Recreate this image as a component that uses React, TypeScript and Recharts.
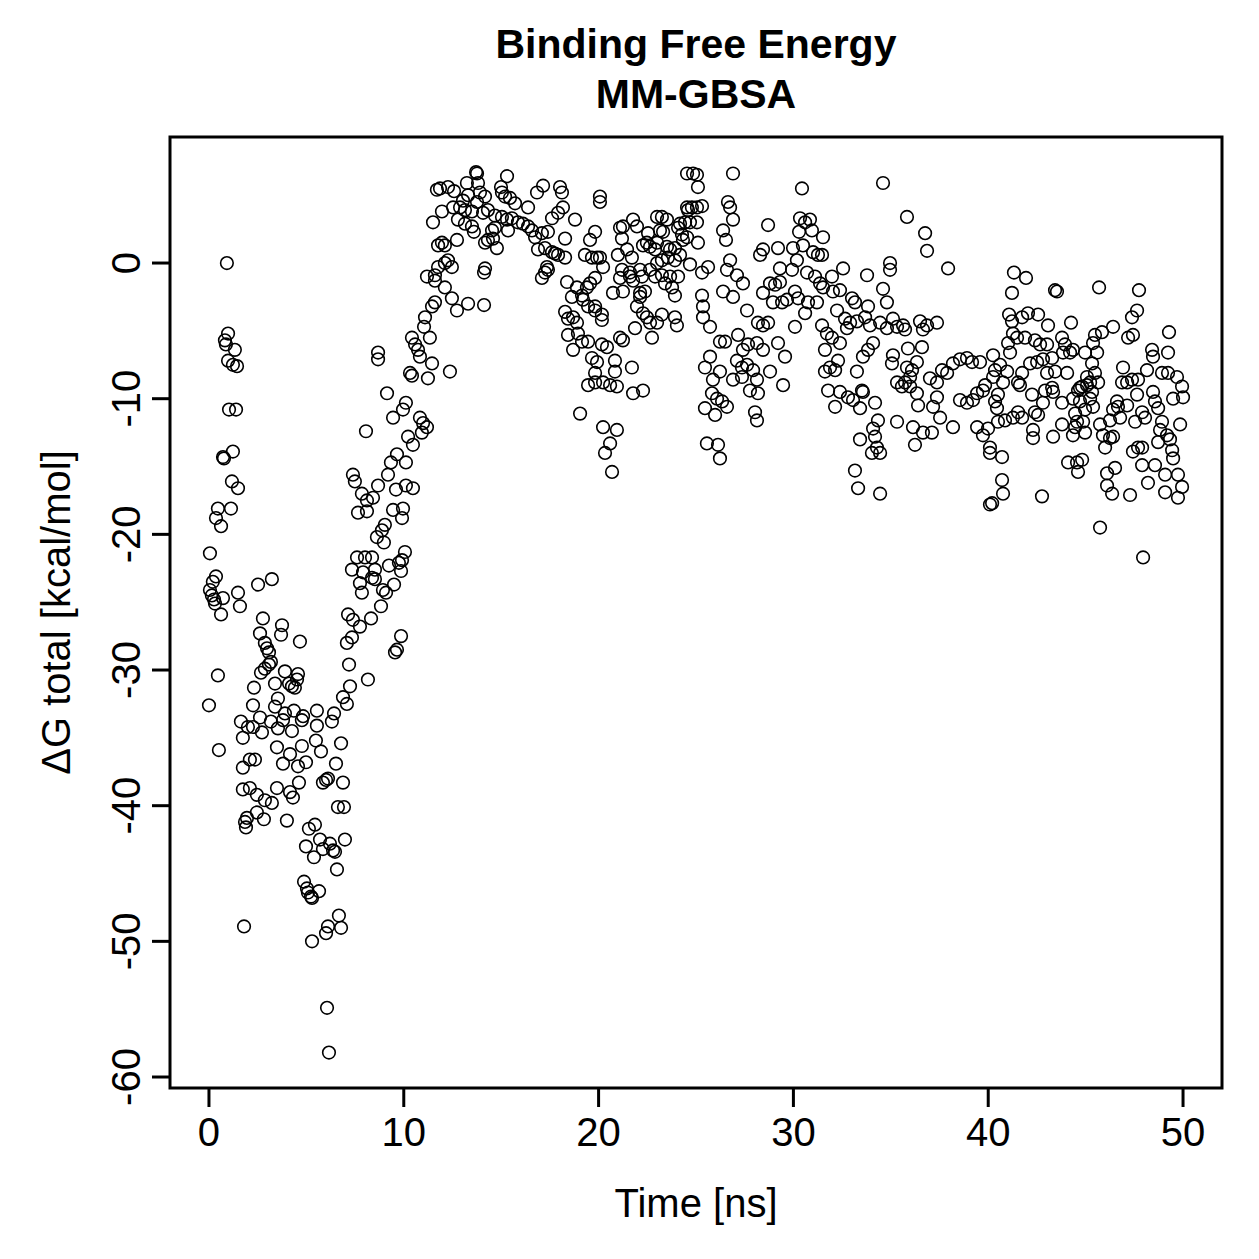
import { ScatterChart, Scatter, XAxis, YAxis, ReferenceArea } from 'recharts'

const FONT = '"Liberation Sans", Arial, Helvetica, sans-serif'

// MM-GBSA binding free energy per frame: [time (ns), ΔG total (kcal/mol)]
const ns0to10: [number, number][] = [
  [0.0, -32.6], [0.05, -21.4], [0.05, -24.1], [0.15, -24.5], [0.2, -23.5], [0.26, -24.8], [0.31, -25.1], [0.36, -23.1],
  [0.36, -18.8], [0.46, -18.1], [0.62, -19.4], [0.46, -30.4], [0.51, -35.9], [0.62, -25.9], [0.72, -24.7], [0.72, -14.3],
  [0.77, -14.4], [0.82, -5.7], [0.87, -6.0], [0.92, 0.0], [0.98, -5.2], [0.98, -7.2], [1.03, -10.8], [1.13, -18.1],
  [1.18, -16.1], [1.23, -13.9], [1.23, -7.5], [1.33, -6.4], [1.39, -10.8], [1.44, -7.6], [1.49, -16.6], [1.49, -24.3],
  [1.59, -25.3], [1.64, -33.8], [1.74, -35.0], [1.74, -37.2], [1.74, -38.8], [1.8, -48.9], [1.85, -41.2], [1.9, -41.6],
  [1.95, -40.9],
  [2.52, -23.7], [3.23, -23.3], [2.77, -26.2], [3.75, -26.7], [2.62, -27.3], [3.7, -27.4], [2.87, -28.0], [2.98, -28.4],
  [4.67, -27.9], [3.18, -29.4], [3.08, -28.7], [3.08, -29.6], [2.87, -29.9], [2.67, -30.2], [3.9, -30.1], [4.57, -30.3],
  [4.52, -30.7], [4.11, -31.0], [4.26, -31.2], [4.41, -31.3], [3.39, -31.0], [2.31, -31.3], [2.26, -32.6], [3.54, -32.1],
  [3.39, -32.7], [4.36, -33.0], [3.9, -33.2], [3.8, -33.7], [4.83, -33.4], [4.77, -33.7], [5.54, -33.0], [5.54, -34.1],
  [6.42, -33.2], [6.31, -33.8], [2.62, -33.5], [2.0, -34.2], [2.26, -34.2], [3.18, -33.8], [3.54, -34.3], [4.26, -34.5],
  [2.72, -34.6], [3.49, -35.7], [4.77, -35.6], [5.49, -35.2], [5.75, -36.0], [6.78, -35.4], [4.16, -36.2], [4.98, -36.8],
  [4.57, -37.1], [3.8, -36.9], [6.52, -36.9], [2.1, -36.6], [2.36, -36.6], [2.1, -38.7], [2.46, -39.2], [2.87, -39.6],
  [3.23, -39.8], [3.49, -38.7], [4.16, -39.0], [4.31, -39.4], [4.62, -38.3], [5.85, -38.3], [6.01, -38.1], [6.11, -38.0],
  [6.88, -38.3], [6.62, -40.1], [6.93, -40.1], [2.46, -40.5], [2.82, -41.0], [4.0, -41.1], [5.44, -41.4], [5.13, -41.7],
  [4.98, -43.0], [5.39, -43.8], [5.7, -42.5], [5.85, -43.2], [6.21, -42.8], [6.37, -43.3], [6.47, -43.4], [6.98, -42.5],
  [6.57, -44.7], [4.88, -45.6], [5.03, -46.1], [5.08, -46.4], [5.24, -46.7], [5.65, -46.3], [5.29, -46.8], [6.67, -48.1],
  [6.78, -49.0], [6.11, -48.9], [6.01, -49.4], [5.29, -50.0], [6.06, -54.9], [6.16, -58.2],
  [7.14, -25.9], [7.39, -26.3], [7.75, -26.8], [8.32, -26.2], [7.08, -28.0], [7.34, -27.6], [7.19, -29.6], [7.24, -31.2],
  [8.16, -30.7], [6.88, -32.0], [7.08, -32.5], [9.55, -28.7], [9.65, -28.5], [9.86, -27.5], [7.39, -15.6], [7.49, -16.1],
  [7.85, -17.0], [8.11, -17.5], [8.42, -17.3], [7.65, -18.4], [8.11, -18.3], [8.68, -16.4], [9.19, -15.6], [9.34, -14.7],
  [9.65, -14.1], [9.6, -16.7], [9.96, -18.1], [9.45, -18.2], [9.91, -18.8], [9.03, -19.3], [8.88, -19.7], [8.62, -20.2],
  [8.98, -20.6], [9.91, -21.9], [7.6, -21.7], [8.01, -21.7], [8.37, -21.7], [7.34, -22.6], [7.91, -22.8], [8.52, -22.6],
  [9.24, -22.3], [9.75, -22.1], [9.86, -22.7], [7.75, -23.6], [8.37, -23.2], [8.52, -23.3], [7.85, -24.3], [8.93, -24.1],
  [9.09, -24.3], [9.5, -23.7], [8.83, -25.3], [8.68, -6.6], [8.68, -7.1], [9.14, -9.6], [9.45, -11.4], [9.96, -10.8],
  [8.06, -12.4],
]

const ns10to20: [number, number][] = [
  [10.11, -14.7], [10.11, -16.4], [10.06, -21.3], [10.11, -10.3],
  [13.71, 6.7], [13.76, 6.6], [15.3, 6.4], [11.7, 5.4], [11.86, 5.5], [12.27, 5.6], [12.58, 5.3], [13.24, 5.9],
  [13.81, 5.9], [13.91, 5.2], [13.3, 5.0], [13.04, 4.6], [13.76, 4.5], [14.17, 4.9], [14.99, 5.6], [15.04, 5.2],
  [15.2, 4.9], [15.45, 4.8], [15.71, 4.4], [16.38, 4.1], [16.84, 5.2], [17.15, 5.7], [18.02, 5.6], [18.12, 5.2],
  [18.17, 4.1], [17.92, 3.7], [17.61, 3.3], [18.79, 3.2], [11.96, 3.8], [12.53, 4.1], [12.89, 4.1], [13.14, 3.9],
  [13.5, 3.8], [12.78, 3.2], [13.14, 2.9], [13.5, 2.7], [13.6, 2.3], [14.07, 3.7], [14.32, 3.9], [14.68, 3.5],
  [15.04, 3.4], [15.3, 3.2], [15.55, 3.3], [15.86, 3.0], [16.12, 2.9], [16.38, 2.7], [16.58, 2.4], [16.74, 1.9],
  [17.09, 2.2], [17.4, 2.3], [15.35, 2.4], [14.68, 2.6], [14.32, 1.7], [14.58, 1.8], [14.53, 2.4], [14.78, 1.1],
  [14.17, 1.5], [11.5, 3.0], [12.73, 1.7], [11.76, 1.3], [11.96, 1.5], [12.11, 1.3], [17.25, 1.1], [17.61, 0.8],
  [17.76, 0.7], [17.92, 0.6], [18.28, 0.4], [17.35, -0.3], [17.25, -0.7], [17.4, -0.5], [17.09, -1.1], [16.89, 1.0],
  [18.28, 1.8], [19.3, 0.6], [19.66, 0.4], [19.92, 0.4], [19.82, 2.3], [11.76, -0.3], [12.11, 0.0], [12.47, -0.3],
  [12.27, 0.2], [11.19, -1.0], [11.6, -0.9], [11.6, -1.3], [12.11, -1.8], [14.17, -0.4], [14.12, -0.7], [12.47, -2.6],
  [12.73, -3.5], [13.3, -3.0], [14.12, -3.1], [11.6, -2.9], [11.45, -3.2], [11.09, -4.0], [11.04, -4.7], [11.34, -5.5],
  [10.42, -5.5], [10.58, -6.0], [10.73, -6.4], [10.83, -6.9], [11.45, -7.4], [10.32, -8.1], [10.42, -8.3], [11.24, -8.5],
  [12.37, -8.0], [10.83, -11.4], [10.99, -11.8], [11.19, -12.1], [10.93, -12.5], [10.22, -12.8], [10.47, -13.4],
  [10.47, -16.6], [18.38, -1.4], [18.63, -2.5], [18.89, -1.8], [19.15, -2.4], [19.4, -1.8], [19.2, -2.7], [19.46, -3.2],
  [19.82, -3.2], [18.28, -3.6], [18.43, -4.1], [18.69, -4.0], [18.89, -4.4], [18.94, -5.2], [18.43, -5.3], [18.69, -6.4],
  [19.15, -5.8], [19.46, -5.8], [19.66, -7.0], [19.92, -7.3], [19.82, -8.1], [19.46, -9.0], [19.82, -8.8], [19.05, -11.1],
  [19.82, -1.1], [19.56, 1.7], [19.56, -1.5], [19.82, -3.5],
]

const ns20to30: [number, number][] = [
  [20.07, 4.9], [20.07, 4.5], [20.17, -4.2], [20.17, -6.0], [20.23, -12.1], [20.33, -14.0],
  [24.54, 6.6], [24.85, 6.6], [25.05, 6.5], [25.1, 5.6], [26.9, 6.6], [24.54, 4.1], [24.79, 4.1], [25.05, 4.1],
  [25.31, 4.2], [24.59, 3.9], [26.64, 4.5], [26.75, 4.1], [26.9, 3.2], [26.39, 2.4], [26.54, 1.7], [28.7, 2.8],
  [21.77, 3.2], [21.25, 2.7], [21.1, 2.6], [21.2, 1.8], [21.97, 2.7], [22.54, 2.2], [23.0, 3.4], [23.25, 3.4],
  [23.51, 3.2], [23.15, 2.4], [23.31, 2.3], [24.18, 2.9], [24.44, 3.0], [24.69, 3.0], [25.05, 3.0], [24.08, 2.6],
  [24.28, 2.1], [24.33, 1.7], [24.54, 1.9], [25.1, 1.5], [22.48, 1.5], [22.28, 1.3], [22.64, 1.2], [22.9, 1.0],
  [23.0, 1.5], [23.51, 1.2], [23.67, 1.0], [23.92, 1.1], [20.99, 0.6], [21.46, 1.0], [21.71, 0.4], [20.07, 0.4],
  [20.23, -0.3], [21.2, -0.5], [21.61, -0.7], [22.13, -0.5], [22.64, -0.5], [23.0, 0.0], [23.25, 0.2], [23.56, 0.4],
  [23.92, 0.2], [24.18, 0.6], [24.69, -0.1], [25.62, -0.3], [25.31, -0.7], [21.61, -1.0], [21.77, -1.3], [21.1, -1.1],
  [22.23, -1.0], [22.9, -1.0], [23.25, -0.9], [23.67, -1.0], [24.08, -1.0], [23.41, -1.5], [23.77, -1.8], [21.25, -2.1],
  [20.74, -2.2], [22.13, -2.2], [22.38, -2.1], [23.92, -2.4], [25.31, -2.4], [25.36, -3.2], [25.36, -4.0], [25.72, -4.7],
  [26.39, -2.1], [26.9, -2.5], [26.75, 0.2], [26.59, -0.5], [27.1, -0.9], [27.41, -1.5], [27.62, -3.5], [20.17, -3.8],
  [22.13, -2.5], [21.97, -3.2], [22.28, -3.7], [22.48, -4.0], [22.64, -4.4], [23.0, -4.4], [23.25, -3.8], [23.92, -4.0],
  [24.02, -4.6], [21.87, -4.8], [22.74, -5.5], [21.1, -5.5], [21.25, -5.7], [20.43, -6.2], [20.84, -7.2], [20.84, -8.0],
  [21.71, -7.7], [20.23, -8.8], [20.59, -9.0], [20.94, -9.1], [21.77, -9.6], [22.28, -9.4], [20.94, -12.3], [20.59, -13.3],
  [20.69, -15.4], [26.23, -5.8], [26.49, -5.8], [27.16, -5.3], [27.41, -6.4], [27.67, -6.0], [28.13, -5.9], [28.44, -6.4],
  [29.21, -5.9], [29.57, -6.9], [25.72, -6.9], [25.46, -7.7], [25.87, -8.6], [26.23, -8.0], [27.1, -7.2], [27.36, -7.7],
  [27.62, -7.5], [27.93, -7.9], [28.13, -8.6], [28.8, -8.0], [26.9, -8.6], [27.36, -8.4], [27.77, -9.4], [28.18, -9.6],
  [25.82, -9.6], [26.08, -10.0], [26.34, -10.2], [26.59, -10.6], [25.46, -10.7], [25.98, -11.2], [29.47, -9.0],
  [28.03, -11.0], [28.13, -11.6], [25.56, -13.3], [26.13, -13.4], [26.23, -14.4], [28.29, 0.6], [28.44, 1.0], [29.21, 1.1],
  [29.31, -0.4], [28.8, -1.5], [29.06, -1.6], [29.31, -1.4], [28.44, -2.2], [28.95, -2.9], [29.42, -2.9], [29.67, -2.7],
  [28.18, -4.4], [28.44, -4.6], [28.7, -4.4], [29.98, 1.1], [29.93, -0.5],
]

const ns30to40: [number, number][] = [
  [30.44, 5.5], [34.6, 5.9], [35.83, 3.4], [36.76, 2.2], [36.86, 0.9], [37.94, -0.4], [30.34, 3.3], [30.6, 3.0],
  [30.85, 3.2], [30.29, 2.3], [30.95, 2.4], [31.52, 1.9], [30.49, 1.3], [31.01, 0.8], [31.26, 0.6], [31.47, 0.6],
  [30.18, 0.2], [30.7, -0.7], [31.11, -1.0], [31.98, -1.0], [32.55, -0.4], [31.37, -1.5], [31.52, -1.8], [32.03, -2.1],
  [32.39, -2.0], [30.08, -2.1], [30.24, -2.6], [30.75, -2.9], [31.21, -2.9], [30.6, -3.7], [30.08, -4.7], [33.78, -0.9],
  [34.96, 0.0], [34.96, -0.5], [34.6, -1.9], [34.8, -2.9], [33.83, -3.2], [33.68, -4.0], [33.01, -2.6], [33.16, -2.9],
  [32.24, -3.5], [32.65, -4.1], [32.91, -4.4], [32.75, -4.8], [33.26, -4.3], [33.93, -4.6], [31.47, -4.6], [31.72, -5.2],
  [31.98, -5.5], [32.39, -5.9], [31.62, -6.4], [32.29, -7.2], [31.88, -7.7], [31.62, -8.0], [33.26, -8.0], [32.14, -7.9],
  [34.45, -4.4], [34.8, -4.8], [35.11, -4.1], [35.32, -4.7], [35.63, -4.6], [35.73, -4.9], [36.5, -4.3], [36.86, -4.6],
  [37.37, -4.4], [36.65, -4.9], [34.09, -5.9], [33.83, -6.4], [33.57, -6.9], [35.88, -6.3], [36.6, -6.2], [35.11, -6.8],
  [35.06, -7.4], [35.83, -7.7], [36.34, -7.3], [36.09, -7.9], [35.32, -8.8], [35.57, -9.1], [35.73, -8.8], [35.99, -8.4],
  [33.57, -9.5], [33.06, -10.1], [33.42, -10.7], [34.19, -10.3], [33.52, -9.4], [32.39, -9.5], [32.8, -9.9], [31.78, -9.4],
  [32.14, -10.6], [35.32, -11.7], [34.34, -11.6], [34.09, -12.2], [34.19, -12.8], [34.29, -13.6], [34.03, -14.0],
  [34.45, -14.0], [33.42, -13.0], [33.16, -15.3], [33.32, -16.6], [34.45, -17.0], [35.99, -9.1], [36.34, -9.6],
  [37.01, -8.5], [37.37, -8.8], [37.63, -7.9], [37.89, -8.1], [38.19, -7.4], [38.55, -7.1], [38.91, -7.0], [39.17, -7.3],
  [39.58, -7.3], [37.37, -9.9], [37.17, -10.6], [36.4, -10.5], [37.53, -11.4], [36.14, -12.1], [36.65, -12.5],
  [37.11, -12.5], [36.24, -13.4], [38.19, -12.1], [38.55, -10.1], [38.91, -10.3], [39.22, -10.1], [39.43, -9.6],
  [39.73, -9.4], [39.43, -12.1], [39.73, -12.7], [40.09, -14.0], [39.84, -9.0], [39.99, -12.2],
]

const ns40to50: [number, number][] = [
  [41.32, -0.7], [41.94, -1.1], [41.22, -2.2], [43.43, -2.0], [43.53, -2.1], [45.69, -1.8], [47.74, -2.0], [41.07, -3.8],
  [41.22, -4.3], [41.74, -4.0], [42.04, -3.7], [42.56, -3.8], [43.07, -4.6], [44.25, -4.4], [41.27, -5.2], [41.48, -5.5],
  [41.89, -5.5], [42.4, -5.7], [42.66, -6.0], [43.02, -6.0], [43.79, -5.5], [43.94, -6.0], [44.2, -6.6], [44.35, -6.4],
  [43.84, -6.6], [41.12, -6.6], [41.02, -5.9], [40.25, -6.8], [40.61, -7.5], [40.97, -8.0], [40.35, -7.9], [40.25, -8.4],
  [42.15, -7.4], [42.51, -7.3], [42.81, -7.1], [43.28, -7.0], [43.02, -8.1], [43.43, -8.0], [44.05, -8.1], [41.74, -8.1],
  [41.53, -8.8], [40.76, -8.8], [40.5, -9.7], [41.63, -9.0], [42.25, -9.7], [42.92, -9.4], [43.28, -9.2], [43.33, -9.5],
  [42.81, -10.3], [42.4, -11.0], [42.56, -11.2], [43.79, -10.3], [44.35, -10.0], [44.82, -9.1], [45.07, -9.0], [44.61, -9.4],
  [44.71, -10.2], [45.23, -10.0], [45.38, -10.6], [44.97, -10.8], [44.46, -11.1], [40.45, -10.7], [40.35, -10.2],
  [41.53, -11.0], [41.27, -11.4], [41.74, -11.4], [40.86, -11.6], [40.5, -11.7], [40.09, -13.6], [40.71, -14.3],
  [42.3, -12.3], [42.3, -12.9], [43.33, -12.8], [43.79, -11.9], [44.56, -11.7], [44.46, -12.1], [44.87, -11.7],
  [44.35, -12.7], [44.97, -12.5], [40.09, -17.8], [40.2, -17.7], [40.71, -16.0], [40.76, -17.0], [42.76, -17.2],
  [45.84, -5.1], [46.41, -4.7], [45.48, -5.3], [45.38, -5.9], [45.59, -6.6], [44.97, -6.6], [45.33, -7.4], [45.48, -8.1],
  [45.07, -8.4], [45.23, -8.8], [45.64, -8.8], [45.33, -9.5], [44.71, -9.2], [45.74, -11.9], [45.89, -12.7], [46.25, -12.9],
  [46.41, -12.8], [46.0, -13.6], [44.1, -14.7], [44.56, -14.7], [44.82, -14.5], [44.61, -15.4], [46.1, -15.5], [46.51, -15.1],
  [46.1, -16.4], [46.36, -17.0], [45.74, -19.5], [47.28, -17.1], [48.2, -16.2], [47.95, -21.7], [47.38, -4.0], [47.64, -3.5],
  [47.43, -5.3], [47.18, -5.5], [48.41, -6.4], [48.46, -6.9], [49.23, -6.6], [49.28, -5.1], [48.15, -7.9], [46.92, -7.7],
  [46.87, -8.8], [47.13, -8.8], [47.38, -8.6], [47.69, -8.6], [47.64, -9.7], [46.61, -10.2], [46.66, -10.6], [47.13, -10.5],
  [46.41, -10.8], [46.25, -11.6], [46.77, -11.4], [47.54, -11.7], [47.9, -11.0], [48.05, -11.4], [48.46, -9.5],
  [48.56, -10.2], [48.72, -10.7], [48.92, -8.1], [49.23, -8.1], [49.69, -8.4], [49.95, -9.1], [49.49, -10.0], [50.0, -9.9],
  [48.92, -11.7], [48.82, -12.3], [49.18, -12.7], [49.33, -13.0], [48.72, -13.2], [49.44, -13.8], [49.85, -11.9],
  [47.9, -13.6], [47.43, -13.9], [47.69, -13.6], [47.9, -14.9], [48.56, -14.9], [49.08, -15.6], [49.49, -14.4],
  [49.74, -15.6], [49.95, -16.5], [49.08, -16.9], [49.74, -17.3],
]

const xTicks = [0, 10, 20, 30, 40, 50]
const yTicks = [-60, -50, -40, -30, -20, -10, 0]
const xRange: [number, number] = [-2, 52]
const yRange: [number, number] = [-60.81, 9.29]

const frames = [...ns0to10, ...ns10to20, ...ns20to30, ...ns30to40, ...ns40to50].map(([t, dG]) => ({ t, dG }))

const OpenCircle = (props: any) => (
  <circle cx={props.cx} cy={props.cy} r={6.3} fill="none" stroke="#000" strokeWidth={1.6} />
)

const YTick = (props: any) => {
  const { x, y, payload } = props
  return (
    <text
      x={x}
      y={y}
      transform={`rotate(-90 ${x} ${y})`}
      textAnchor="middle"
      fill="#000"
      fontSize={40}
      fontFamily={FONT}
    >
      {payload.value}
    </text>
  )
}

export default function App() {
  return (
    <div style={{ position: 'absolute', left: 0, top: 0, width: 1259, height: 1259, background: '#fff' }}>
      <ScatterChart width={1259} height={1259} margin={{ top: 137, right: 37, bottom: 0, left: 0 }}>
        <XAxis
          type="number"
          dataKey="t"
          domain={xRange}
          ticks={xTicks}
          allowDataOverflow
          height={171}
          axisLine={false}
          tickSize={19}
          tickMargin={11}
          tickLine={{ stroke: '#000', strokeWidth: 3 }}
          tick={{ fill: '#000', fontSize: 40, fontFamily: FONT }}
          label={{ value: 'Time [ns]', position: 'insideBottom', offset: 42, fill: '#000', fontSize: 40, fontFamily: FONT }}
        />
        <YAxis
          type="number"
          dataKey="dG"
          domain={yRange}
          ticks={yTicks}
          allowDataOverflow
          width={170}
          axisLine={false}
          tickSize={18}
          tickMargin={12}
          tickLine={{ stroke: '#000', strokeWidth: 3 }}
          tick={<YTick />}
          label={{
            value: 'ΔG total [kcal/mol]',
            angle: -90,
            position: 'insideLeft',
            offset: 56,
            fill: '#000',
            fontSize: 40,
            fontFamily: FONT,
            style: { textAnchor: 'middle' },
          }}
        />
        <ReferenceArea
          x1={xRange[0]}
          x2={xRange[1]}
          y1={yRange[0]}
          y2={yRange[1]}
          fill="none"
          fillOpacity={0}
          stroke="#000"
          strokeWidth={3}
          strokeOpacity={1}
        />
        <Scatter data={frames} shape={<OpenCircle />} isAnimationActive={false} />
      </ScatterChart>
      <svg width={1259} height={130} style={{ position: 'absolute', left: 0, top: 0, pointerEvents: 'none' }}>
        <text x={696} y={58} textAnchor="middle" fontSize={41} fontWeight="bold" fontFamily={FONT} fill="#000">
          Binding Free Energy
        </text>
        <text x={696} y={108} textAnchor="middle" fontSize={41} fontWeight="bold" fontFamily={FONT} fill="#000">
          MM-GBSA
        </text>
      </svg>
    </div>
  )
}
